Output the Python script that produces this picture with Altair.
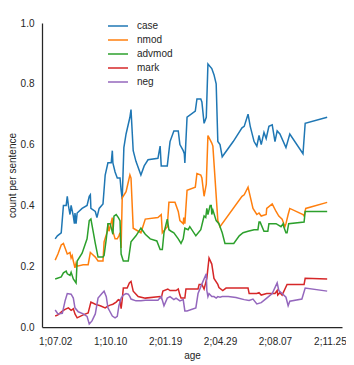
import altair as alt
import pandas as pd

TICK_DAYS = [0, 100, 200, 300, 400, 500]
TICK_LABELS = ["1;07.02", "1;10.10", "2;01.19", "2;04.29", "2;08.07", "2;11.25"]
SERIES = ["case", "nmod", "advmod", "mark", "neg"]
COLORS = ["#1f77b4", "#ff7f0e", "#2ca02c", "#d62728", "#9467bd"]

case_day = [0, 4, 11, 15, 20, 22, 24, 27, 29, 33, 35, 36, 38, 40, 49, 58, 62, 64, 65, 73,
            76, 80, 87, 91, 96, 102, 104, 105, 109, 113, 118, 120, 122, 125, 129, 136, 138, 142, 147, 156,
            162, 169, 187, 191, 193, 204, 209, 216, 224, 227, 233, 235, 236, 240, 255, 258, 265, 267, 271, 275,
            278, 285, 289, 293, 296, 300, 304, 324, 340, 344, 351, 355, 362, 367, 371, 375, 380, 384, 389, 395,
            400, 404, 409, 420, 427, 451, 455, 495]
case_val = [0.29, 0.30, 0.31, 0.40, 0.40, 0.43, 0.40, 0.37, 0.40, 0.365, 0.34, 0.375, 0.34, 0.375, 0.39, 0.40, 0.43, 0.435, 0.39, 0.38,
            0.36, 0.39, 0.405, 0.50, 0.54, 0.54, 0.58, 0.54, 0.51, 0.49, 0.49, 0.45, 0.42, 0.59, 0.635, 0.69, 0.715, 0.58, 0.545, 0.50,
            0.53, 0.55, 0.555, 0.595, 0.53, 0.53, 0.61, 0.645, 0.645, 0.60, 0.58, 0.57, 0.54, 0.69, 0.71, 0.75, 0.75, 0.74, 0.67, 0.69,
            0.865, 0.85, 0.83, 0.80, 0.61, 0.60, 0.56, 0.61, 0.655, 0.66, 0.70, 0.66, 0.61, 0.595, 0.63, 0.60, 0.64, 0.62, 0.66, 0.665,
            0.61, 0.645, 0.635, 0.59, 0.635, 0.57, 0.67, 0.69]

nmod_day = [0, 5, 11, 15, 18, 22, 27, 29, 31, 33, 36, 38, 40, 51, 60, 64, 67, 73, 78, 87,
            89, 95, 96, 98, 104, 105, 109, 113, 116, 118, 120, 122, 129, 136, 138, 142, 156, 164, 187, 193,
            195, 204, 207, 218, 224, 227, 233, 234, 236, 240, 255, 258, 265, 267, 271, 275, 278, 285, 287, 296,
            300, 340, 344, 351, 360, 367, 371, 375, 384, 385, 395, 402, 407, 413, 418, 420, 424, 427, 451, 453,
            456, 495]
nmod_val = [0.22, 0.24, 0.27, 0.275, 0.26, 0.24, 0.245, 0.227, 0.235, 0.217, 0.195, 0.21, 0.20, 0.205, 0.205, 0.245, 0.24, 0.23, 0.217, 0.217,
            0.28, 0.315, 0.34, 0.315, 0.36, 0.315, 0.29, 0.29, 0.30, 0.31, 0.26, 0.425, 0.445, 0.50, 0.49, 0.325, 0.31, 0.355, 0.36, 0.37,
            0.31, 0.33, 0.41, 0.41, 0.38, 0.35, 0.34, 0.36, 0.34, 0.45, 0.46, 0.505, 0.50, 0.49, 0.43, 0.47, 0.63, 0.605, 0.595, 0.35,
            0.33, 0.43, 0.435, 0.46, 0.39, 0.37, 0.375, 0.365, 0.37, 0.39, 0.405, 0.38, 0.365, 0.355, 0.33, 0.34, 0.37, 0.39, 0.37, 0.365,
            0.39, 0.41]

advmod_day = [0, 11, 15, 20, 22, 27, 29, 33, 38, 40, 49, 58, 62, 65, 69, 73, 78, 87, 89, 93,
              96, 100, 105, 107, 111, 115, 118, 120, 124, 133, 138, 147, 156, 164, 173, 185, 191, 195, 198, 202,
              204, 207, 211, 216, 224, 229, 233, 236, 242, 245, 256, 265, 271, 274, 276, 278, 282, 284, 285, 287,
              293, 298, 304, 309, 325, 335, 342, 351, 362, 369, 371, 373, 380, 387, 389, 398, 402, 411, 415, 416,
              420, 422, 425, 453, 455, 495]
advmod_val = [0.158, 0.165, 0.178, 0.184, 0.175, 0.17, 0.18, 0.158, 0.145, 0.217, 0.243, 0.29, 0.35, 0.355, 0.315, 0.275, 0.23, 0.23, 0.235, 0.29,
              0.34, 0.34, 0.305, 0.365, 0.37, 0.36, 0.35, 0.24, 0.217, 0.217, 0.28, 0.30, 0.325, 0.305, 0.29, 0.283, 0.255, 0.255, 0.31, 0.34,
              0.355, 0.32, 0.315, 0.31, 0.29, 0.275, 0.29, 0.325, 0.32, 0.33, 0.30, 0.32, 0.365, 0.36, 0.39, 0.37, 0.40, 0.40, 0.37, 0.385,
              0.35, 0.34, 0.31, 0.275, 0.275, 0.30, 0.31, 0.315, 0.32, 0.32, 0.345, 0.345, 0.315, 0.315, 0.34, 0.34, 0.34, 0.33, 0.34, 0.33,
              0.31, 0.31, 0.34, 0.345, 0.38, 0.38]

mark_day = [0, 5, 13, 18, 24, 29, 33, 36, 40, 51, 60, 65, 73, 82, 91, 95, 100, 105, 111, 115,
            118, 120, 122, 124, 131, 135, 138, 142, 151, 164, 191, 193, 196, 205, 209, 220, 224, 227, 229, 236,
            238, 260, 262, 267, 271, 276, 280, 285, 289, 296, 298, 305, 311, 351, 353, 362, 367, 371, 375, 385,
            391, 400, 404, 405, 409, 413, 422, 453, 455, 495]
mark_val = [0.036, 0.04, 0.052, 0.058, 0.063, 0.055, 0.06, 0.043, 0.03, 0.04, 0.046, 0.082, 0.075, 0.07, 0.063, 0.068, 0.072, 0.075, 0.082, 0.09,
            0.088, 0.06, 0.09, 0.128, 0.128, 0.145, 0.15, 0.118, 0.10, 0.095, 0.10, 0.095, 0.118, 0.125, 0.12, 0.12, 0.125, 0.105, 0.095, 0.095,
            0.125, 0.125, 0.14, 0.14, 0.125, 0.16, 0.227, 0.207, 0.16, 0.14, 0.13, 0.12, 0.128, 0.128, 0.11, 0.11, 0.11, 0.113, 0.105, 0.11,
            0.11, 0.11, 0.12, 0.105, 0.113, 0.105, 0.14, 0.14, 0.16, 0.158]

neg_day = [0, 5, 13, 18, 22, 29, 33, 36, 42, 51, 58, 62, 67, 73, 78, 85, 89, 93, 96, 104,
           109, 113, 116, 120, 122, 124, 129, 133, 136, 138, 147, 156, 164, 187, 193, 198, 204, 209, 216, 220,
           227, 233, 236, 240, 256, 260, 269, 275, 276, 278, 280, 285, 289, 293, 296, 300, 304, 315, 329, 344,
           353, 360, 367, 375, 385, 395, 404, 407, 413, 420, 424, 427, 449, 455, 495]
neg_val = [0.056, 0.043, 0.045, 0.086, 0.11, 0.108, 0.095, 0.063, 0.05, 0.043, 0.035, 0.01, 0.02, 0.043, 0.095, 0.11, 0.118, 0.10, 0.063, 0.036,
           0.03, 0.035, 0.07, 0.095, 0.10, 0.105, 0.11, 0.108, 0.10, 0.092, 0.086, 0.086, 0.088, 0.088, 0.10, 0.07, 0.095, 0.10, 0.09, 0.095,
           0.086, 0.09, 0.053, 0.053, 0.063, 0.11, 0.15, 0.175, 0.12, 0.10, 0.11, 0.10, 0.10, 0.095, 0.10, 0.098, 0.10, 0.10, 0.097, 0.09,
           0.087, 0.092, 0.076, 0.08, 0.095, 0.11, 0.145, 0.12, 0.11, 0.098, 0.07, 0.085, 0.092, 0.128, 0.118]

rows = []
for name, days, vals in [("case", case_day, case_val), ("nmod", nmod_day, nmod_val),
                         ("advmod", advmod_day, advmod_val), ("mark", mark_day, mark_val),
                         ("neg", neg_day, neg_val)]:
    for i, (d, v) in enumerate(zip(days, vals)):
        rows.append({"series": name, "day": d, "value": v, "idx": i})
df = pd.DataFrame(rows)

label_expr = " : ".join(
    f"datum.value == {d} ? '{l}'" for d, l in zip(TICK_DAYS, TICK_LABELS)
) + " : ''"

FONT = "Liberation Sans"
GRAY = "#262626"

chart = alt.Chart(df).mark_line(strokeWidth=1.5).encode(
    x=alt.X("day:Q", title="age",
            scale=alt.Scale(domain=[-24, 522], nice=False, zero=False),
            axis=alt.Axis(values=TICK_DAYS, labelExpr=label_expr, labelPadding=9, titlePadding=4)),
    y=alt.Y("value:Q", title="count per sentence",
            scale=alt.Scale(domain=[0, 1], nice=False),
            axis=alt.Axis(values=[0, 0.2, 0.4, 0.6, 0.8, 1.0], format=".1f", labelPadding=8, titlePadding=3)),
    color=alt.Color("series:N", title=None,
                    scale=alt.Scale(domain=SERIES, range=COLORS),
                    legend=alt.Legend(orient="none", legendX=65, legendY=-4,
                                      symbolType="stroke", symbolSize=400,
                                      symbolStrokeWidth=1.5, labelOffset=8,
                                      rowPadding=0, clipHeight=14, padding=0,
                                      labelFont=FONT, labelFontSize=10,
                                      labelColor=GRAY)),
    order="idx:Q",
).properties(
    width=300, height=304,
    autosize=alt.AutoSizeParams(type="none"),
    padding={"left": 34, "top": 15, "right": 4, "bottom": 38},
).configure_view(stroke=None).configure_axis(
    grid=False, ticks=False, tickSize=0,
    domainColor=GRAY, domainWidth=1.25,
    labelFont=FONT, labelFontSize=10, labelColor=GRAY,
    titleFont=FONT, titleFontSize=10, titleColor=GRAY, titleFontWeight="normal",
)

chart.save("out.html", embed_options={"renderer": "svg", "actions": False})
